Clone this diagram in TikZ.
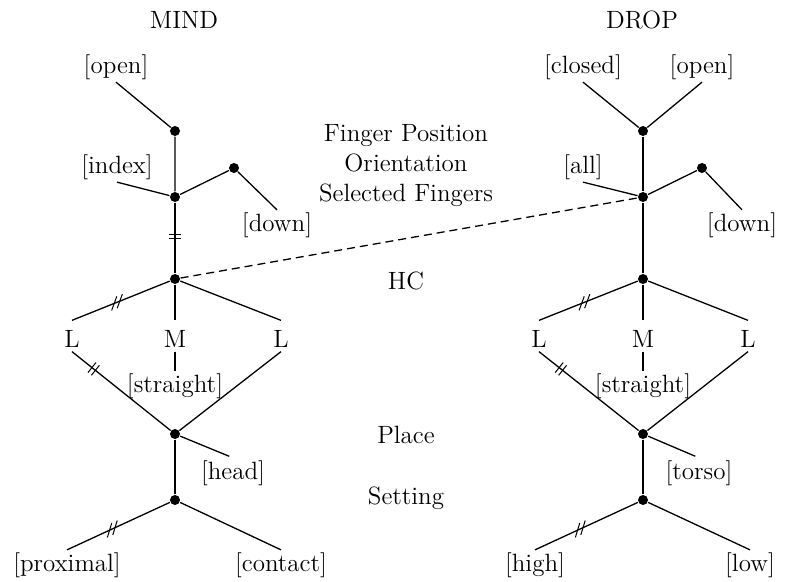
\documentclass[tikz,border=0pt]{standalone}
\usetikzlibrary{decorations.markings}

\begin{document}
\begin{tikzpicture}[x=0.5pt,y=-0.5pt,line width=0.65pt,font=\fontsize{12.5}{15}\selectfont,
    dot/.style={circle,fill,inner sep=0pt,minimum size=5pt},
    feat/.style={inner sep=1pt},
    slot/.style={inner sep=1pt,text height=12pt,text depth=1pt,anchor=base},
    cut/.style={postaction={decorate,decoration={markings,mark=at position #1 with
        {\draw[line width=0.5pt] (-1.1pt,-3.2pt) -- (-1.1pt,3.2pt) (1.1pt,-3.2pt) -- (1.1pt,3.2pt);}}}},
    slantcut/.style={postaction={decorate,decoration={markings,mark=at position #1 with
        {\draw[line width=0.5pt] (-4pt,-2.8pt) -- (1pt,2.8pt) (-1pt,-2.8pt) -- (4pt,2.8pt);}}}}]
  \useasboundingbox (0,0) rectangle (785,582);

  % Nodes: MIND
  \node (mind) at (184,20) {MIND};
  \node[feat] (open1) at (116,67) {[open]};
  \node[dot] (fp1) at (175,131) {};
  \node[feat] (index) at (117,167) {[index]};
  \node[dot] (sf1) at (175,197) {};
  \node[dot] (or1) at (234,168) {};
  \node[feat] (down1) at (277,225) {[down]};
  \node[dot] (hc1) at (175,279) {};
  \node[slot] (l1) at (72,347) {L};
  \node[slot] (m1) at (175,347) {M};
  \node[slot] (r1) at (281,347) {L};
  \node[feat] (straight1) at (175,386) {[straight]};
  \node[dot] (pl1) at (175,434) {};
  \node[feat] (head) at (233,473) {[head]};
  \node[dot] (set1) at (175,500) {};
  \node[feat] (prox) at (67,565) {[proximal]};
  \node[feat] (cont) at (281,565) {[contact]};

  % Nodes: DROP
  \node (drop) at (642,20) {DROP};
  \node[feat] (closed) at (583,67) {[closed]};
  \node[feat] (open2) at (702,67) {[open]};
  \node[dot] (fp2) at (643,131) {};
  \node[feat] (all) at (583,167) {[all]};
  \node[dot] (sf2) at (643,197) {};
  \node[dot] (or2) at (702,168) {};
  \node[feat] (down2) at (742,225) {[down]};
  \node[dot] (hc2) at (643,279) {};
  \node[slot] (l2) at (539,347) {L};
  \node[slot] (m2) at (643,347) {M};
  \node[slot] (r2) at (748,347) {L};
  \node[feat] (straight2) at (643,386) {[straight]};
  \node[dot] (pl2) at (643,434) {};
  \node[feat] (torso) at (699,473) {[torso]};
  \node[dot] (set2) at (643,500) {};
  \node[feat] (high) at (535,565) {[high]};
  \node[feat] (low) at (750,565) {[low]};

  % Nodes: tiers
  \node[align=center] (fingers) at (406,166) {Finger Position\\Orientation\\Selected Fingers};
  \node (hc) at (406,281) {HC};
  \node (place) at (406,435) {Place};
  \node (setting) at (406,498) {Setting};

  % Edges: MIND
  \draw (open1.south) -- (fp1) -- (sf1);
  \draw (index.south) -- (sf1) -- (or1) -- (down1.north);
  \draw[cut=0.48] (sf1) -- (hc1);
  \draw[slantcut=0.54] (hc1) -- (l1.north);
  \draw (hc1) -- (m1.north);
  \draw (hc1) -- (r1.north);
  \draw[cut=0.22] (l1.south) -- (pl1);
  \draw (m1.south) -- (straight1.north);
  \draw (r1.south) -- (pl1);
  \draw[shorten >=2pt] (pl1) -- (head.north);
  \draw (pl1) -- (set1);
  \draw[slantcut=0.56] (set1) -- (prox.north);
  \draw (set1) -- (cont.north);

  % Edges: DROP
  \draw (closed.south) -- (fp2) -- (open2.south);
  \draw (fp2) -- (sf2);
  \draw (all.south) -- (sf2) -- (or2) -- (down2.north);
  \draw (sf2) -- (hc2);
  \draw[slantcut=0.54] (hc2) -- (l2.north);
  \draw (hc2) -- (m2.north);
  \draw (hc2) -- (r2.north);
  \draw[cut=0.22] (l2.south) -- (pl2);
  \draw (m2.south) -- (straight2.north);
  \draw (r2.south) -- (pl2);
  \draw[shorten >=2pt] (pl2) -- (torso.north);
  \draw (pl2) -- (set2);
  \draw[slantcut=0.56] (set2) -- (high.north);
  \draw (set2) -- (low.north);

  % Association line
  \draw[dashed,dash pattern=on 4pt off 2.5pt] (hc1) -- (sf2);
\end{tikzpicture}
\end{document}
